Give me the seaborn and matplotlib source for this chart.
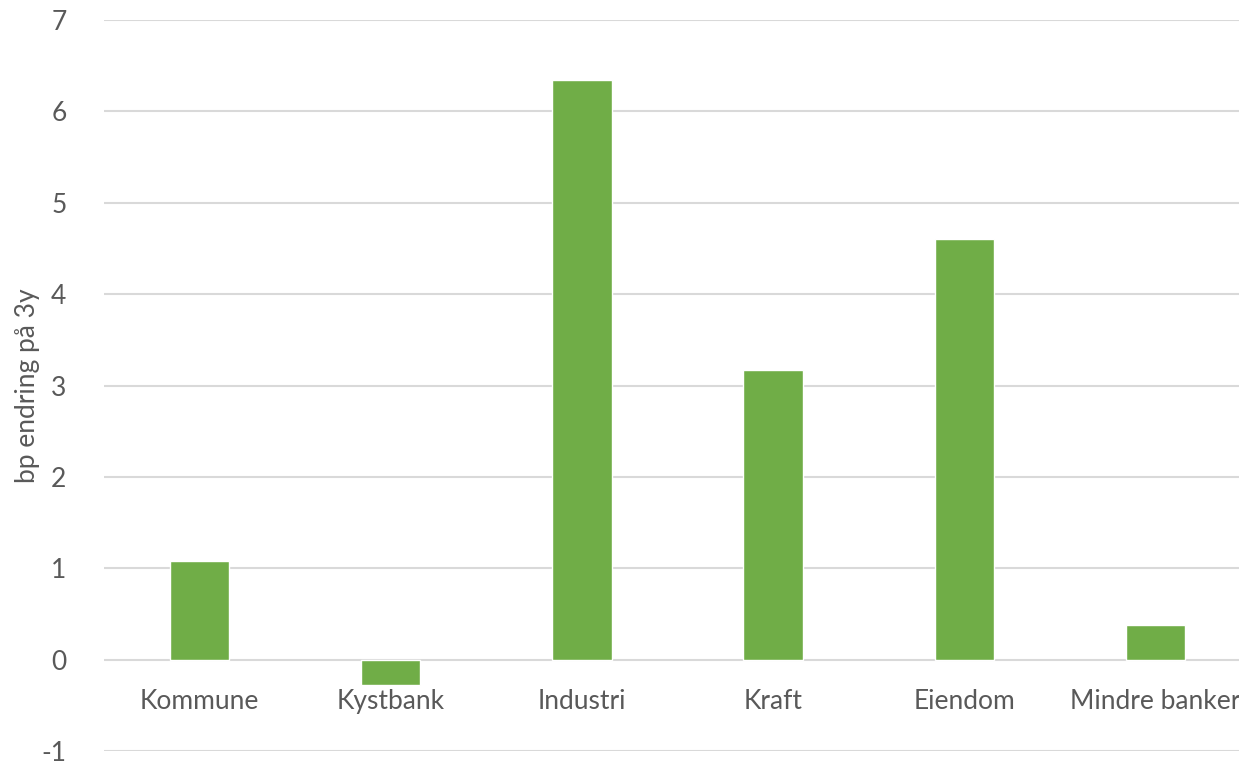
import matplotlib
matplotlib.use("Agg")
import matplotlib.pyplot as plt
import seaborn as sns
import pandas as pd

categories = ["Kommune", "Kystbank", "Industri", "Kraft", "Eiendom", "Mindre banker"]
values = [1.08, -0.28, 6.34, 3.17, 4.60, 0.38]
y_ticks = [-1, 0, 1, 2, 3, 4, 5, 6, 7]
y_label = "bp endring på 3y"

sns.set_theme(style="white")
plt.rcParams["font.family"] = ["Lato", "DejaVu Sans"]

text_color = "#595959"
grid_color = "#d9d9d9"
bar_color = "#70ad47"

df = pd.DataFrame({"sektor": categories, "bp": values})

fig = plt.figure(figsize=(12.39, 7.64), dpi=100)
ax = fig.add_axes([104 / 1239, 13 / 764, (1251 - 104) / 1239, (751 - 20) / 764])

sns.barplot(data=df, x="sektor", y="bp", color=bar_color, saturation=1,
            width=0.31, ax=ax, zorder=3)

ax.set_ylim(-1, 7)
ax.set_yticks(y_ticks)
ax.set_yticklabels([str(t) for t in y_ticks])
ax.set_xlim(-0.5, len(categories) - 0.5)

for t in y_ticks:
    ax.axhline(t, color=grid_color, lw=1.5, zorder=1)

for side in ["top", "right", "left"]:
    ax.spines[side].set_visible(False)
ax.spines["bottom"].set_position(("data", 0))
ax.spines["bottom"].set_visible(False)

ax.tick_params(axis="x", length=0, pad=21, labelsize=19, labelcolor=text_color)
ax.tick_params(axis="y", length=0, pad=27, labelsize=19, labelcolor=text_color)

ax.set_xlabel("")
ax.set_ylabel(y_label, fontsize=19, color=text_color)
ax.yaxis.set_label_coords(-64 / 1147, 0.5)

fig.savefig("out.png", dpi=100)
